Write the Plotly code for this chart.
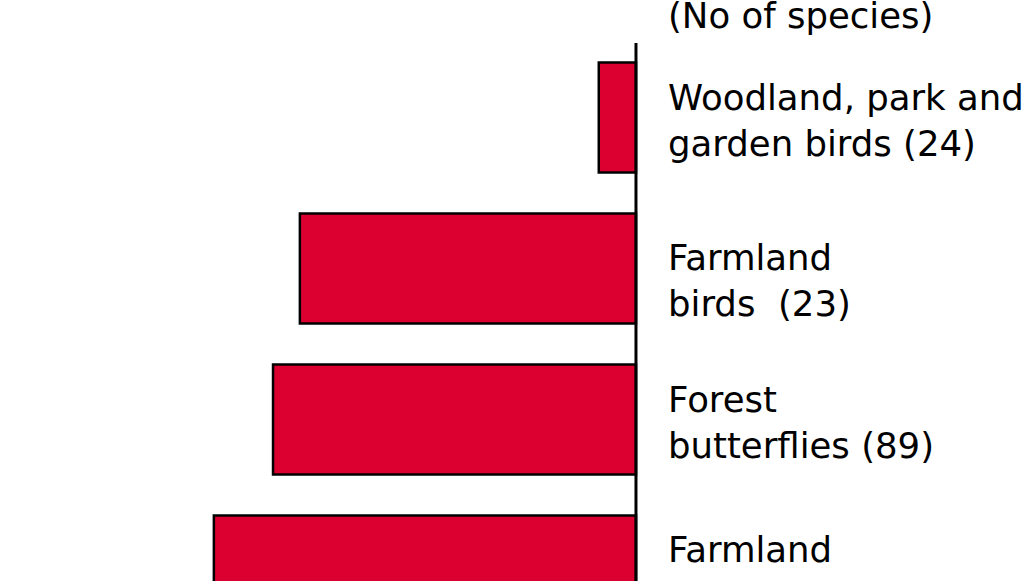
import plotly.graph_objects as go

categories = [
    "Woodland, park and<br>garden birds (24)",
    "Farmland<br>birds  (23)",
    "Forest<br>butterflies (89)",
    "Farmland<br>butterflies (301)",
]
values = [-6.1, -55.1, -59.5, -69.2]
header = "(No of species)"

label_yshift = [-3.5, -12, -2.5, -1.5]

pos = list(range(len(categories)))
FONT = dict(size=35.5, color="black", family="DejaVu Sans")

fig = go.Figure()
fig.add_trace(go.Bar(
    x=values, y=pos, orientation="h", width=0.728,
    marker=dict(color="#DC0030", line=dict(color="black", width=2.5)),
    showlegend=False, hoverinfo="skip",
))

for p, c, ys in zip(pos, categories, label_yshift):
    fig.add_annotation(x=0, y=p, xref="x", yref="y", text=c, showarrow=False,
                       xanchor="left", yanchor="middle", xshift=30, yshift=ys,
                       align="left", font=FONT)

fig.add_annotation(x=0, y=0.973, xref="x", yref="paper", text=header, showarrow=False,
                   xanchor="left", yanchor="middle", xshift=30,
                   align="left", font=FONT)

fig.add_shape(type="line", xref="x", yref="y", x0=0, x1=0, y0=-0.493, y1=3.2,
              line=dict(color="black", width=3))

fig.update_layout(
    width=1024, height=581,
    margin=dict(l=0, r=0, t=0, b=0),
    paper_bgcolor="white", plot_bgcolor="white",
    xaxis=dict(range=[-104.26, 63.61], visible=False, fixedrange=True),
    yaxis=dict(range=[3.0695, -0.778], visible=False, fixedrange=True),
    bargap=0.27,
)

fig.write_html("out.html", config={"displayModeBar": False},
               post_script="document.body.style.margin='0px';")
